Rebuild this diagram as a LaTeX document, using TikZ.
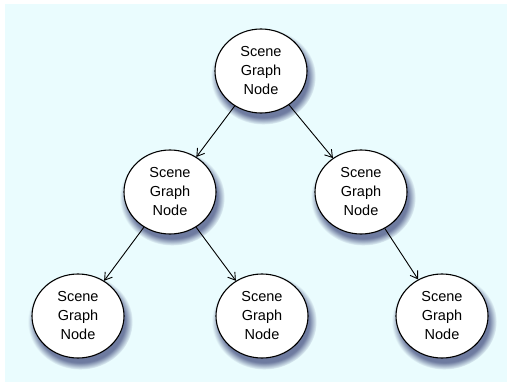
\documentclass[tikz,border=0pt]{standalone}
\usepackage{fontspec}
\setmainfont{Liberation Sans}
\usetikzlibrary{shapes.geometric,shadows,arrows.meta}

\definecolor{paper}{RGB}{234,252,254}
\definecolor{shadowc}{RGB}{45,55,110}

\tikzset{
  sgnode/.style={
    ellipse, draw=black, line width=1.1pt, fill=white,
    minimum width=92pt, minimum height=84pt, inner sep=0pt,
    align=center, font=\fontsize{14.5}{19}\selectfont,
    circular drop shadow={shadow xshift=2pt, shadow yshift=-5pt,
      shadow scale=1.14, fill=shadowc, opacity=0.65}
  },
  child/.style={line width=0.9pt, -{Straight Barb[length=7pt,width=9pt]}}
}

\begin{document}
\begin{tikzpicture}[x=1pt, y=-1pt]
  % page and backdrop
  \useasboundingbox (0,0) rectangle (510,385);
  \fill[white] (0,0) rectangle (510,385);
  \fill[paper] (5,4) rectangle (507,382);

  % scene graph nodes
  \node[sgnode] (root) at (261,71)  {Scene\\Graph\\Node};
  \node[sgnode] (ml)   at (170,192) {Scene\\Graph\\Node};
  \node[sgnode] (mr)   at (361,192) {Scene\\Graph\\Node};
  \node[sgnode] (bl)   at (78,316)  {Scene\\Graph\\Node};
  \node[sgnode] (bm)   at (262,316) {Scene\\Graph\\Node};
  \node[sgnode] (br)   at (442,316) {Scene\\Graph\\Node};

  % parent-child links
  \draw[child] (root) -- (ml);
  \draw[child] (root) -- (mr);
  \draw[child] (ml) -- (bl);
  \draw[child] (ml) -- (bm);
  \draw[child] (mr) -- (br);
\end{tikzpicture}
\end{document}
